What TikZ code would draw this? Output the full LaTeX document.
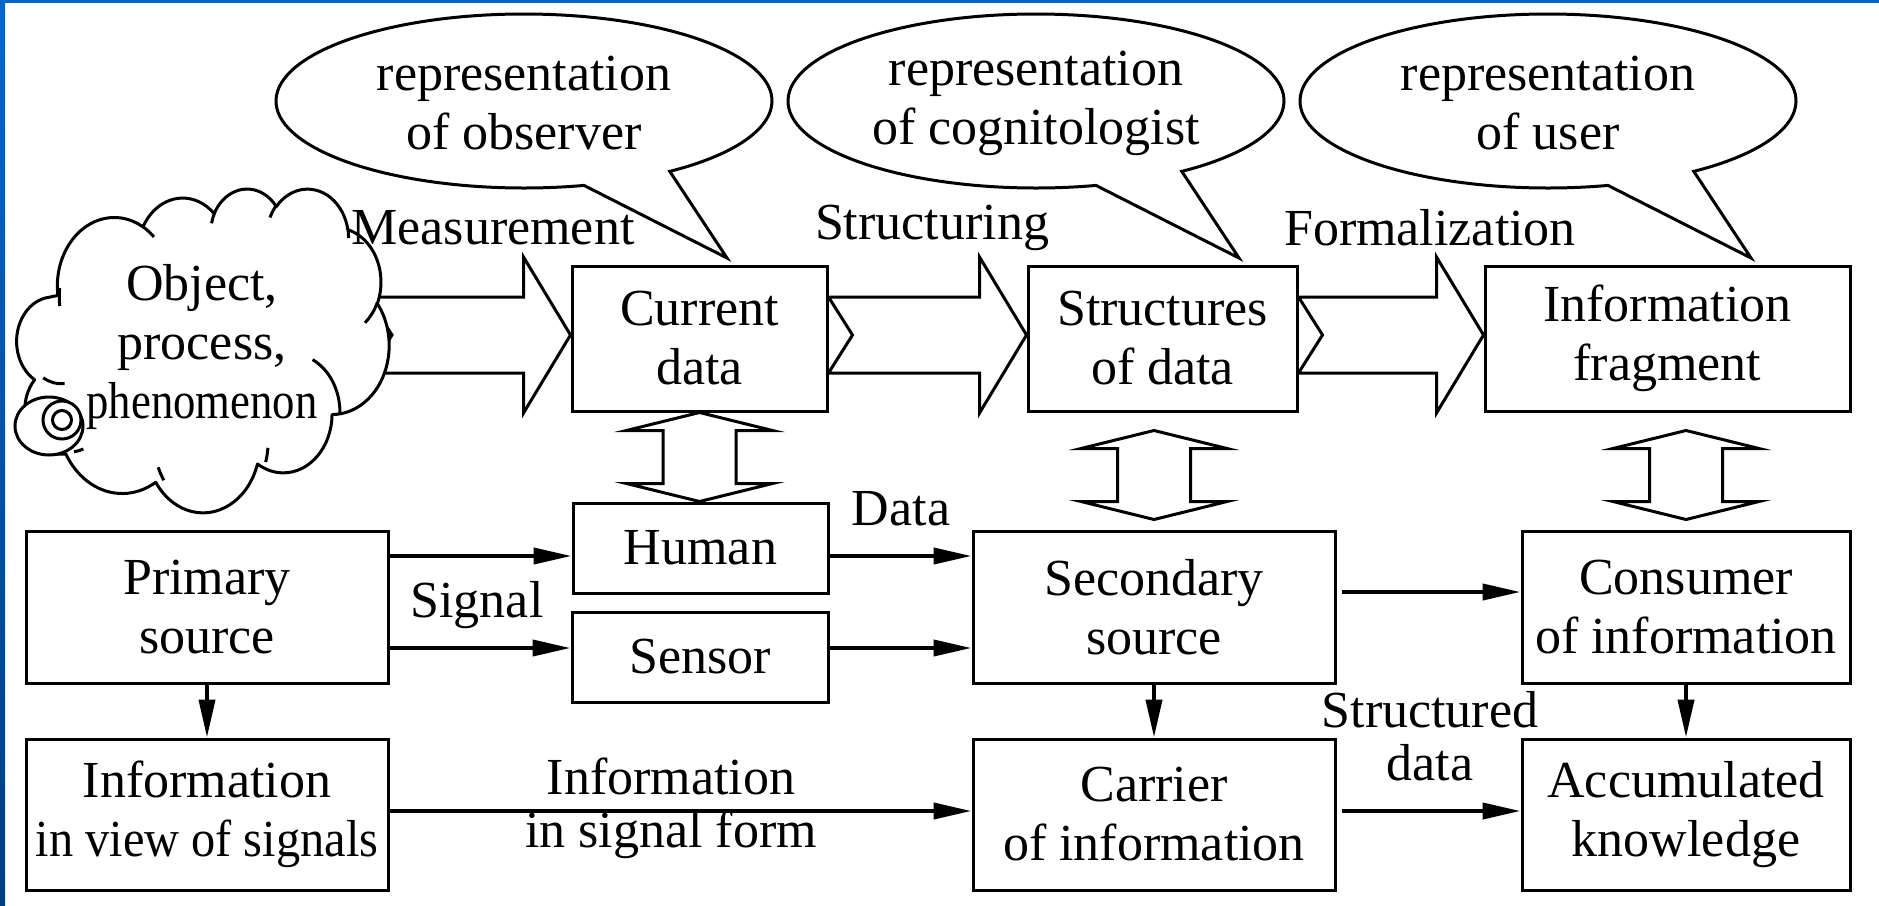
\documentclass[tikz,border=0pt]{standalone}
\usepackage{fontspec}
\usepackage{graphicx}
\setmainfont{Liberation Serif}
\usetikzlibrary{arrows.meta,shapes.geometric,calc}
\definecolor{edgeblue}{RGB}{0,102,204}
\definecolor{edgebluedark}{RGB}{0,62,130}
\newcommand\blockarrow[3]{%
  \draw[bigarr] let \p1=(#1), \p2=(#2), \p3=(#3) in
    (\x1,\y3+19pt) -- (\x2-23.5pt,\y3+19pt) -- (\x2-23.5pt,\y3+39pt) -- (\x2,\y3)
    -- (\x2-23.5pt,\y3-39pt) -- (\x2-23.5pt,\y3-19pt) -- (\x1,\y3-19pt) -- (\x1+12pt,\y3) -- cycle;}
\newcommand\dblarrow[2]{%
  \draw[bigarr] let \p1=(#1), \p2=(#2) in
    (\x1,\y1) -- (\x1+36.5pt,\y1-9pt) -- (\x1+18.25pt,\y1-9pt) -- (\x1+18.25pt,\y2+9pt)
    -- (\x1+36.5pt,\y2+9pt) -- (\x1,\y2) -- (\x1-36.5pt,\y2+9pt) -- (\x1-18.25pt,\y2+9pt)
    -- (\x1-18.25pt,\y1-9pt) -- (\x1-36.5pt,\y1-9pt) -- cycle;}
\newcommand\callout[3]{%
  \draw[bigarr] ({#2+203},258) -- ({#2+248*cos(54)},{101+87*sin(54)})
    arc[start angle=54, end angle=-284, x radius=248, y radius=87] -- cycle;
  \node (#1) at (#2,103) {#3};}
% cloud arcs (angles converted to ellipse parameters)
\def\cloudk{1}
\newcommand\cldcalc[4]{%
  \pgfmathsetmacro\cldS{atan2(\cloudk*#1*sin(#3), #2*cos(#3))}%
  \pgfmathsetmacro\cldE{atan2(\cloudk*#1*sin(#3+#4), #2*cos(#3+#4))}%
  \pgfmathsetmacro\cldD{\cldE-\cldS}%
  \pgfmathsetmacro\cldD{ifthenelse(#4>0, ifthenelse(\cldD<0,\cldD+360,\cldD), ifthenelse(\cldD>0,\cldD-360,\cldD))}%
}
\newcommand\cldarc[4]{\pgfextra{\cldcalc{#1}{#2}{#3}{#4}} arc[start angle=\cldS, delta angle=\cldD, x radius=#1, y radius=#2]}
\begin{document}
\begin{tikzpicture}[x=0.5pt,y=-0.5pt,
  every node/.style={font=\fontsize{26}{29.5}\selectfont, inner sep=0pt, align=center},
  tight/.style={font=\fontsize{26}{26.5}\selectfont},
  box/.style={draw, line width=1.5pt, fill=white},
  conn/.style={line width=2pt, -{Triangle[length=19pt,width=8pt]}},
  bigarr/.style={draw, line width=1.5pt, fill=white, line join=miter},
  cloudline/.style={line width=1.5pt, line join=round}]
\useasboundingbox (0,0) rectangle (1879,905);
\shade[top color=edgeblue, bottom color=edgebluedark] (0,0) rectangle (5,905);
\fill[edgeblue] (0,0) rectangle (1879,2.5);

% callouts
\callout{obs}{524}{representation\\of observer}
\callout{cog}{1036}{representation\\of cognitologist}
\callout{usr}{1548}{representation\\of user}

% boxes
\node[box, minimum width=127.5pt, minimum height=72.5pt] (cur) at (699.5,338.5) {Current\\data};
\node[box, minimum width=134.5pt, minimum height=72.5pt] (struct) at (1162.5,338.5) {Structures\\of data};
\node[box, minimum width=182.5pt, minimum height=72.5pt] (frag) at (1667.5,338.5) {Information\\fragment};
\node[box, minimum width=127.5pt, minimum height=45pt] (human) at (700.5,548) {Human};
\node[box, minimum width=128pt, minimum height=45pt] (sensor) at (700,657) {Sensor};
\node[box, minimum width=181pt, minimum height=76pt] (prim) at (207,607) {Primary\\source};
\node[box, minimum width=181pt, minimum height=76pt] (sec) at (1154,607) {Secondary\\source};
\node[box, minimum width=164pt, minimum height=76pt] (cons) at (1686,607) {Consumer\\of information};
\node[box, minimum width=181pt, minimum height=75.5pt] (ivs) at (207,814.5) {Information\\\scalebox{0.93}[1]{in view of signals}};
\node[box, minimum width=181pt, minimum height=75.5pt] (carr) at (1154,814.5) {Carrier\\of information};
\node[box, minimum width=164pt, minimum height=75.5pt] (acc) at (1686,814.5) {Accumulated\\knowledge};

% block arrows
\coordinate (mtail) at (368,335);
\blockarrow{mtail}{cur.west}{mtail}
\blockarrow{cur.east}{struct.west}{mtail}
\blockarrow{struct.east}{frag.west}{mtail}

% cloud (outline, trailing bubbles, inner hooks)
\begin{scope}[shift={(25,188)}, x=0.0421296pt, y=-0.0373843pt]
\draw[cloudline, fill=white] (390,1437)
  \cldarc{675.3}{919.0}{-190.4875}{123.7805}
  \cldarc{533.3}{726.7}{-144.1024}{89.9452}
  \cldarc{436.5}{594.5}{-145.8079}{99.7230}
  \cldarc{485.7}{659.5}{-130.9861}{117.2417}
  \cldarc{533.3}{727.3}{-78.7089}{109.0269}
  \cldarc{677.5}{922.0}{-46.2699}{136.2989}
  \cldarc{578.5}{786.7}{0.6250}{114.0333}
  \cldarc{675.2}{921.5}{22.4554}{115.1692}
  \cldarc{772.0}{1054.3}{66.2426}{75.7110}
  \cldarc{436.0}{591.8}{-274.9421}{146.7356}
  \cldarc{434.5}{594.5}{-246.8285}{152.5189}
  -- cycle;
\end{scope}
\node[ellipse, draw, fill=white, line width=1.5pt, minimum width=34pt, minimum height=29pt] (bub) at (49,426) {};
\node[circle, draw, fill=white, line width=1.5pt, minimum size=19pt] (ringout) at (62,420) {};
\node[circle, draw, line width=1.5pt, minimum size=9.5pt] (ringin) at (62,420) {};
\begin{scope}[shift={(25,188)}, x=0.0421296pt, y=-0.0373843pt]
\draw[cloudline]
  (469.3,2617.7) \cldarc{434.5}{594.5}{86.7420}{26.4295}
  (692.8,3489.9) \cldarc{436.0}{591.8}{73.6105}{11.4475}
  (1647.8,3909.0) \cldarc{675.2}{921.5}{137.6242}{14.0811}
  (2882.7,3475.1) \cldarc{675.2}{921.5}{6.4533}{15.9984}
  (3412.9,2295.4) \cldarc{578.5}{786.7}{-70.2924}{70.9174}
  (4179.8,1535.4) \cldarc{533.3}{727.3}{30.3180}{27.7515}
  (3832.4,542.6) \cldarc{485.7}{659.5}{-13.7443}{14.8589}
  (2907.8,395.2) \cldarc{485.7}{659.5}{-149.1815}{18.1954}
  (2214.1,472.0) \cldarc{436.5}{594.5}{-163.4943}{17.6864}
  (1400.0,519.2) \cldarc{675.3}{919.0}{-66.7070}{12.3194}
  (412.7,1578.9) \cldarc{675.3}{919.0}{-190.4875}{20.4388};
\end{scope}
\node (objtxt) at (202,347) {Object,\\process,\\\scalebox{0.86}[1]{phenomenon}};

% double arrows
\dblarrow{cur.south}{human.north}
\coordinate (d2a) at (sec.north |- struct.south);
\coordinate (d2t) at ([yshift=-9pt]d2a);
\coordinate (d2b) at ([yshift=5pt]sec.north);
\dblarrow{d2t}{d2b}
\coordinate (d3a) at (cons.north |- frag.south);
\coordinate (d3t) at ([yshift=-9pt]d3a);
\coordinate (d3b) at ([yshift=5pt]cons.north);
\dblarrow{d3t}{d3b}

% connectors
\coordinate (yA) at (0,556);
\coordinate (yB) at (0,648);
\coordinate (yC) at (0,592);
\coordinate (yD) at (0,811);
\coordinate (secgap) at ([xshift=2.5pt]sec.east);
\coordinate (cargap) at ([xshift=2.5pt]carr.east);
\draw[conn] (prim.east |- yA) -- (human.west |- yA);
\draw[conn] (prim.east |- yB) -- (sensor.west |- yB);
\draw[conn] (human.east |- yA) -- (sec.west |- yA);
\draw[conn] (sensor.east |- yB) -- (sec.west |- yB);
\draw[conn] (secgap |- yC) -- (cons.west |- yC);
\draw[conn] (prim.south) -- (ivs.north);
\draw[conn] (sec.south) -- (carr.north);
\draw[conn] (cons.south) -- (acc.north);
\draw[conn] (ivs.east |- yD) -- (carr.west |- yD);
\draw[conn] (cargap |- yD) -- (acc.west |- yD);

% labels
\node (lmeas) at (493,228) {Measurement};
\node (lstruc) at (932,228) {Structuring};
\node (lform) at (1430,228) {Formalization};
\node (lsig) at (477,605) {Signal};
\node (ldata) at (901,509) {Data};
\node[tight] (linf) at (671,808) {Information\\in signal form};
\node[tight] (lsd) at (1430,736) {Structured\\data};
\end{tikzpicture}
\end{document}
